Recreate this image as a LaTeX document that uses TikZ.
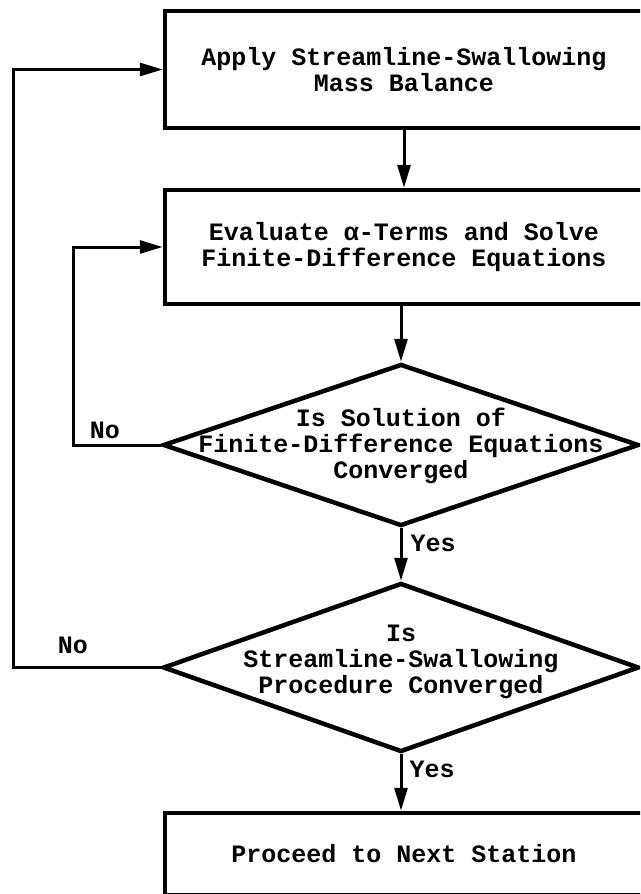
\documentclass[tikz,border=0pt]{standalone}
\usepackage{fontspec}
\setmonofont{Liberation Mono}
\usetikzlibrary{shapes.geometric,arrows.meta}

\begin{document}
\begin{tikzpicture}[x=1pt, y=-1pt,
    font=\ttfamily\bfseries\fontsize{25}{26}\selectfont,
    block/.style={draw, line width=4.5pt, minimum width=478pt, align=center, inner sep=0pt},
    test/.style={draw, diamond, line width=4.5pt, minimum width=476pt, inner sep=0pt},
    flow/.style={line width=3pt, -{Triangle[length=23pt,width=13pt]}}]
  \useasboundingbox (0,0) rectangle (640,894);
  \clip (0,0) rectangle (640,894);

  \node[block, minimum height=117pt] (apply) at (404,69.5) {Apply Streamline-Swallowing\\Mass Balance};
  \node[block, minimum height=114pt] (evaluate) at (404,247) {Evaluate α-Terms and Solve\\Finite-Difference Equations};
  \node[test, minimum height=162pt] (conv1) at (401,445) {};
  \node[align=center] (conv1txt) at (401,446) {Is Solution of\\Finite-Difference Equations\\Converged};
  \node[test, minimum height=169pt] (conv2) at (401,667.5) {};
  \node[align=center] (conv2txt) at (401,662) {Is\\Streamline-Swallowing\\Procedure Converged};
  \node[block, minimum height=82pt] (next) at (404,854) {Proceed to Next Station};

  \coordinate (inner) at (73,0);
  \coordinate (outer) at (13,0);

  \draw[flow] (apply) -- (evaluate);
  \draw[flow] (evaluate.south -| conv1.north) -- (conv1.north);
  \draw[flow] (conv1) -- (conv2);
  \draw[flow] (conv2.south) -- (conv2.south |- next.north);
  \draw[flow] (conv1.west) -- (conv1.west -| inner) |- (evaluate.west);
  \draw[flow] (conv2.west) -- (conv2.west -| outer) |- (apply.west);

  \node (no1) at (105,430) {No};
  \node (no2) at (73,645) {No};
  \node (yes1) at (433,543) {Yes};
  \node (yes2) at (432,769) {Yes};
\end{tikzpicture}
\end{document}
